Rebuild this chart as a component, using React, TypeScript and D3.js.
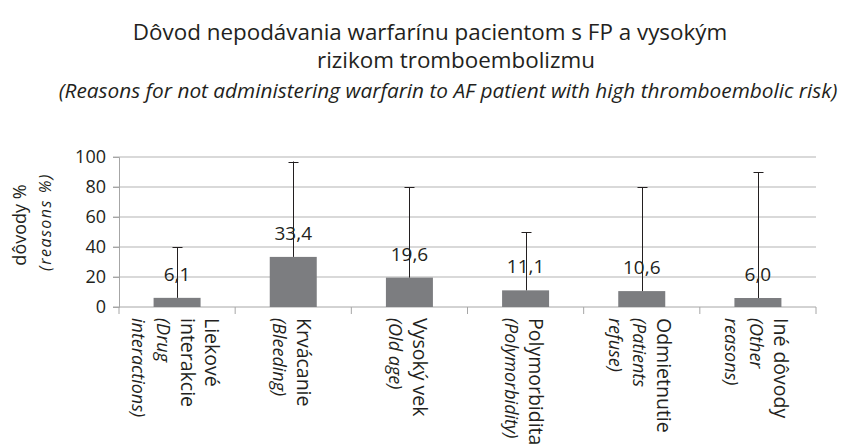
import React, { useEffect, useRef } from 'react'
import * as d3 from 'd3'

// category labels, one entry per wrapped line (italic lines are the english ones)
const categories = [
  ['Liekové', 'interakcie', '(Drug', 'interactions)'],
  ['Krvácanie', '(Bleeding)'],
  ['Vysoký vek', '(Old age)'],
  ['Polymorbidita', '(Polymorbidity)'],
  ['Odmietnutie', '(Patients', 'refuse)'],
  ['Iné dôvody', '(Other', 'reasons)'],
]
const italicFrom = [2, 1, 1, 1, 1, 1]

const values = [6.1, 33.4, 19.6, 11.1, 10.6, 6.0]
const valueLabels = ['6,1', '33,4', '19,6', '11,1', '10,6', '6,0']
// upper end of error bars
const errorTops = [40, 97, 80, 50, 80, 90]

const yTicks = [0, 20, 40, 60, 80, 100]

const W = 848
const H = 447
const FONT = '"Open Sans", "Noto Sans", sans-serif'
const INK = '#231f20'

export default function App() {
  const ref = useRef<SVGSVGElement>(null)

  useEffect(() => {
    const svg = d3.select(ref.current)
    svg.selectAll('*').remove()

    ///layout///
    const left = 119
    const right = 816
    const top = 157
    const bottom = 307

    const x = d3
      .scaleBand<number>()
      .domain(d3.range(values.length))
      .range([left, right])

    const y = d3.scaleLinear().domain([0, 100]).range([bottom, top])

    ///titles///
    svg
      .append('text')
      .attr('x', 430)
      .attr('y', 40)
      .attr('text-anchor', 'middle')
      .style('font-size', '22.4px')
      .text('Dôvod nepodávania warfarínu pacientom s FP a vysokým')
    svg
      .append('text')
      .attr('x', 456)
      .attr('y', 68)
      .attr('text-anchor', 'middle')
      .style('font-size', '22.4px')
      .text('rizikom tromboembolizmu')
    svg
      .append('text')
      .attr('x', 448)
      .attr('y', 98)
      .attr('text-anchor', 'middle')
      .style('font-size', '20.8px')
      .style('font-style', 'italic')
      .text('(Reasons for not administering warfarin to AF patient with high thromboembolic risk)')

    ///gridlines///
    svg
      .append('g')
      .selectAll('line')
      .data(yTicks.filter(t => t > 0))
      .enter()
      .append('line')
      .attr('x1', left - 6)
      .attr('x2', right)
      .attr('y1', t => y(t))
      .attr('y2', t => y(t))
      .attr('stroke', '#b3b3b3')

    ///y axis///
    const yAxis = svg
      .append('g')
      .attr('transform', `translate(${left}, 0)`)
      .call(d3.axisLeft(y).tickValues(yTicks).tickSize(6).tickPadding(7))
    yAxis.select('.domain').attr('stroke', '#a6a6a6')
    yAxis.selectAll('.tick line').attr('stroke', '#a6a6a6')
    yAxis
      .selectAll('.tick text')
      .attr('fill', INK)
      .style('font-size', '18px')
      .style('font-family', FONT)

    ///x axis///
    const xAxis = svg.append('g')
    xAxis
      .append('line')
      .attr('x1', left - 6)
      .attr('x2', right)
      .attr('y1', bottom)
      .attr('y2', bottom)
      .attr('stroke', '#a6a6a6')
    xAxis
      .selectAll('line.tick')
      .data(d3.range(values.length + 1))
      .enter()
      .append('line')
      .attr('class', 'tick')
      .attr('x1', i => left + i * x.step())
      .attr('x2', i => left + i * x.step())
      .attr('y1', bottom)
      .attr('y2', bottom + 7)
      .attr('stroke', '#a6a6a6')

    ///bars///
    const barW = 47
    svg
      .append('g')
      .selectAll('rect')
      .data(values)
      .enter()
      .append('rect')
      .attr('x', (d, i) => x(i)! + x.bandwidth() / 2 - barW / 2)
      .attr('y', d => y(d))
      .attr('width', barW)
      .attr('height', d => bottom - y(d))
      .attr('fill', '#7c7d80')

    ///error bars///
    const err = svg.append('g').attr('stroke', INK).attr('stroke-width', 1)
    errorTops.forEach((e, i) => {
      const cx = Math.round(x(i)! + x.bandwidth() / 2) + 0.5
      err
        .append('line')
        .attr('x1', cx)
        .attr('x2', cx)
        .attr('y1', y(values[i]))
        .attr('y2', y(e))
      err
        .append('line')
        .attr('x1', cx - 5)
        .attr('x2', cx + 5)
        .attr('y1', Math.round(y(e)) + 0.5)
        .attr('y2', Math.round(y(e)) + 0.5)
    })

    ///value labels///
    svg
      .append('g')
      .selectAll('text')
      .data(values)
      .enter()
      .append('text')
      .attr('x', (d, i) => x(i)! + x.bandwidth() / 2)
      .attr('y', d => y(d) - 17)
      .attr('text-anchor', 'middle')
      .style('font-size', '19px')
      .attr('fill', INK)
      .text((d, i) => valueLabels[i])

    ///category labels (rotated)///
    const lineGap = 24.5
    categories.forEach((lines, i) => {
      const cx = x(i)! + x.bandwidth() / 2 - 2
      lines.forEach((line, k) => {
        const italic = k >= italicFrom[i]
        const lx = cx + ((lines.length - 1) / 2 - k) * lineGap
        svg
          .append('text')
          .attr('transform', `translate(${lx}, 318) rotate(90)`)
          .attr('dy', '0.35em')
          .attr('fill', INK)
          .style('font-size', italic ? '18px' : '19.5px')
          .style('font-style', italic ? 'italic' : 'normal')
          .text(line)
      })
    })

    ///y axis title///
    svg
      .append('text')
      .attr('transform', 'translate(20, 225) rotate(-90)')
      .attr('dy', '0.35em')
      .attr('text-anchor', 'middle')
      .style('font-size', '18px')
      .text('dôvody %')
    svg
      .append('text')
      .attr('transform', 'translate(45, 222) rotate(-90)')
      .attr('dy', '0.35em')
      .attr('text-anchor', 'middle')
      .style('font-size', '16px')
      .style('font-style', 'italic')
      .style('letter-spacing', '1.5px')
      .text('(reasons %)')
  }, [])

  return (
    <svg
      ref={ref}
      width={W}
      height={H}
      style={{ position: 'absolute', left: 0, top: 0, fontFamily: FONT, fill: INK, background: '#fff' }}
    />
  )
}
